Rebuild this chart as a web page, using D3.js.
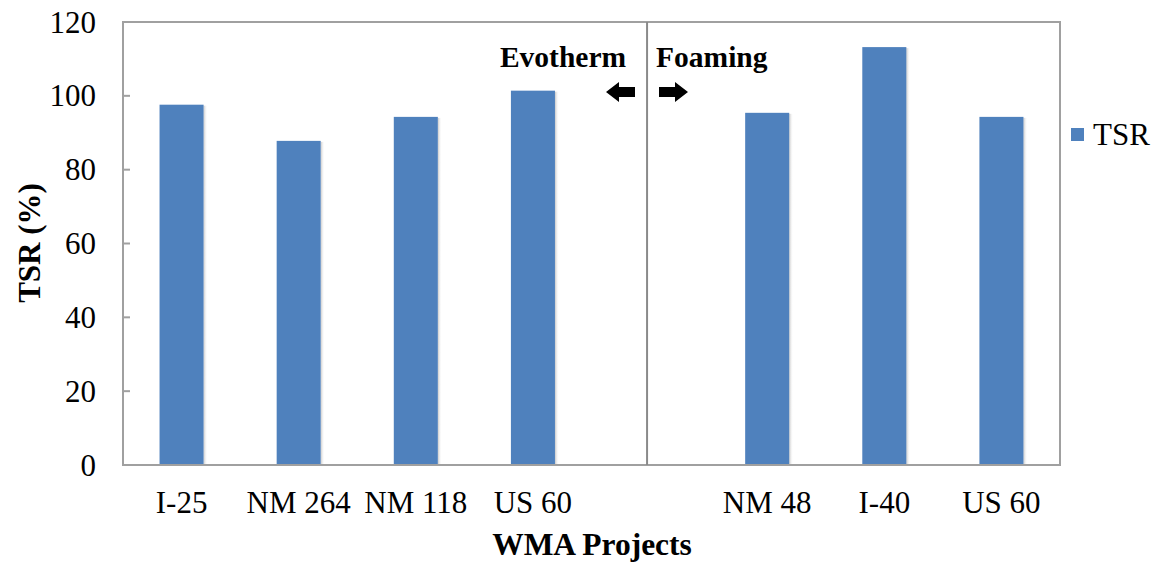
<!DOCTYPE html>
<html><head><meta charset="utf-8">
<script src="https://cdn.jsdelivr.net/npm/d3@7"></script>
<style>body{margin:0;background:#fff}svg{display:block}</style>
</head><body>
<svg id="c" width="1161" height="563"></svg>
<script>
const categories = ["I-25","NM 264","NM 118","US 60","","NM 48","I-40","US 60 "];
const labels = ["I-25","NM 264","NM 118","US 60","","NM 48","I-40","US 60"];
const tsr = [97.6, 87.8, 94.3, 101.4, null, 95.4, 113.2, 94.3];
const yTicks = [0,20,40,60,80,100,120];
const seriesName = "TSR";
const groupLabels = ["Evotherm","Foaming"];

const svg = d3.select("#c");
const L = 123, R = 1060, T = 22, B = 465;
const x = d3.scaleBand().domain(categories).range([L, R]).paddingInner(0.624).paddingOuter(0.312);
const y = d3.scaleLinear().domain([0,120]).range([B, T]);
const font = "'Liberation Serif','Times New Roman',serif";
const axisColor = "#a0a0a0";
const fs = 31;

const data = categories.map((c,i)=>({c, v:tsr[i], lab:labels[i]})).filter(d=>d.v!=null);
const defs = svg.append("defs");
const g = defs.append("linearGradient").attr("id","sh").attr("x1","0").attr("x2","1");
g.append("stop").attr("offset","0").attr("stop-color","#c8c8c8");
g.append("stop").attr("offset","1").attr("stop-color","#ffffff").attr("stop-opacity",0);
svg.selectAll("rect.sh").data(data).enter().append("rect")
  .attr("x", d=>x(d.c)+x.bandwidth()).attr("y", d=>y(d.v)+1)
  .attr("width", 4).attr("height", d=>B-y(d.v)-1).attr("fill","url(#sh)");
svg.selectAll("rect.bar").data(data).enter().append("rect")
  .attr("x", d=>x(d.c)).attr("y", d=>y(d.v))
  .attr("width", x.bandwidth()).attr("height", d=>B-y(d.v))
  .attr("fill","#4f81bd");

// frame
svg.append("rect").attr("x",L).attr("y",T).attr("width",R-L).attr("height",B-T)
  .attr("fill","none").attr("stroke",axisColor).attr("stroke-width",2);

// y ticks (inward)
svg.selectAll("line.yt").data(yTicks.slice(1,-1)).enter().append("line")
  .attr("x1",L).attr("x2",L+7).attr("y1",d=>y(d)).attr("y2",d=>y(d))
  .attr("stroke",axisColor).attr("stroke-width",2);
svg.selectAll("text.yl").data(yTicks).enter().append("text")
  .attr("x",96).attr("y",d=>y(d)+10.5).attr("text-anchor","end")
  .attr("font-family",font).attr("font-size",fs).attr("fill","#000").text(d=>d);

// x labels
svg.selectAll("text.xl").data(data).enter().append("text")
  .attr("x",d=>x(d.c)+x.bandwidth()/2).attr("y",513).attr("text-anchor","middle")
  .attr("font-family",font).attr("font-size",fs).attr("fill","#000").text(d=>d.lab);

// divider
const divX = x("") + x.bandwidth()/2 - 3;
svg.append("line").attr("x1",divX).attr("x2",divX).attr("y1",T).attr("y2",B)
  .attr("stroke","#8a8a8a").attr("stroke-width",2);

// group labels
svg.append("text").attr("x",divX-21).attr("y",67).attr("text-anchor","end")
  .attr("font-family",font).attr("font-weight","bold").attr("font-size",29.5).text(groupLabels[0]);
svg.append("text").attr("x",divX+9).attr("y",67).attr("text-anchor","start")
  .attr("font-family",font).attr("font-weight","bold").attr("font-size",29.5).text(groupLabels[1]);

// arrows
const ay = 92;
function arrow(x0, dir){
  const len = 29, head = 13, hh = 10, sh = 5;
  const pts = [[0,0],[head,-hh],[head,-sh],[len,-sh],[len,sh],[head,sh],[head,hh]]
    .map(p=>[x0 - dir*p[0], ay + p[1]]);
  svg.append("path").attr("d", d3.line()(pts)+"Z").attr("fill","#000");
}
arrow(606, -1);
arrow(688, 1);

// axis titles
svg.append("text").attr("x",592).attr("y",555).attr("text-anchor","middle")
  .attr("font-family",font).attr("font-weight","bold").attr("font-size",31.5).text("WMA Projects");
svg.append("text").attr("transform","translate(40,243) rotate(-90)").attr("text-anchor","middle")
  .attr("font-family",font).attr("font-weight","bold").attr("font-size",31).text("TSR (%)");

// legend
svg.append("rect").attr("x",1071).attr("y",128).attr("width",13).attr("height",13).attr("fill","#4f81bd");
svg.append("text").attr("x",1093).attr("y",145).attr("font-family",font).attr("font-size",fs).text(seriesName);
</script>
</body></html>
